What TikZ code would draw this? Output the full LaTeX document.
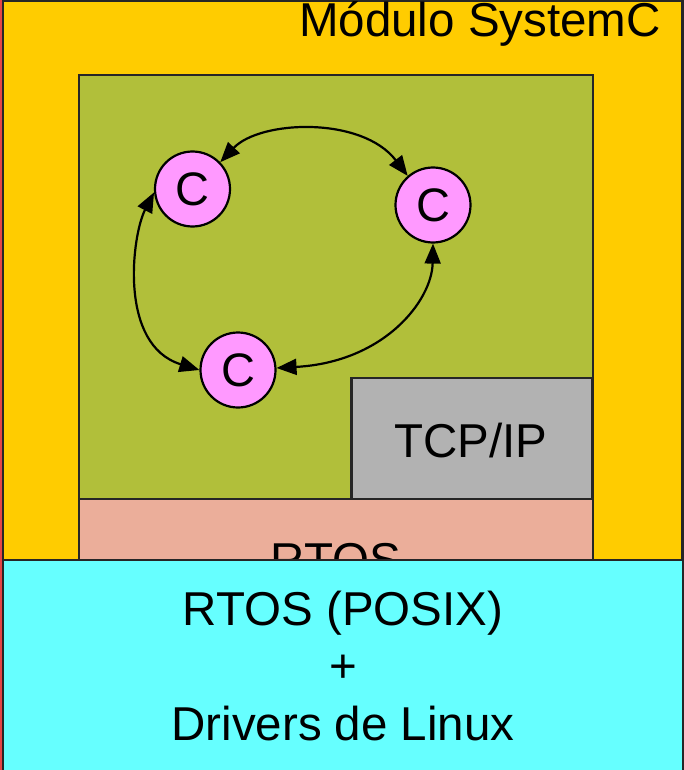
\documentclass[tikz,border=0pt]{standalone}
\usepackage{fontspec}
\setmainfont{Liberation Sans}
\usetikzlibrary{arrows.meta}
\definecolor{modyellow}{RGB}{255,204,0}
\definecolor{modgreen}{RGB}{177,191,58}
\definecolor{modgray}{RGB}{178,178,178}
\definecolor{modsalmon}{RGB}{235,174,154}
\definecolor{modcyan}{RGB}{102,255,255}
\definecolor{modpink}{RGB}{255,153,255}
\definecolor{modred}{RGB}{228,70,70}
\tikzset{
  box/.style={draw=black!85, line width=2.6pt, inner sep=0pt, rectangle},
  big/.style={font=\fontsize{47.5}{57}\selectfont, inner sep=0pt},
  comp/.style={circle, draw=black, line width=2.2pt, fill=modpink, minimum size=75pt, inner sep=0pt, font=\fontsize{47}{56}\selectfont},
  tipshape/.tip={Triangle[length=20pt,width=16pt]},
  link/.style={line width=2.2pt, tipshape-tipshape}
}
\begin{document}
\begin{tikzpicture}[x=1pt,y=-1pt]
\useasboundingbox (0,0) rectangle (684,770);
\fill[modred] (0,0) rectangle (3.5,770);
% outer SystemC module
\node[box, fill=modyellow, minimum width=679.5pt, minimum height=560pt] (module) at (342.75,280.5) {};
\node[big, anchor=base east] (modlabel) at (661,37) {Módulo SystemC};
% green area
\node[box, fill=modgreen, minimum width=514pt, minimum height=424pt] (app) at (336,287) {};
% TCP/IP
\node[box, fill=modgray, minimum width=241pt, minimum height=121pt] (tcp) at (472,438.5) {};
\node[big, anchor=base] (tcplabel) at (471,457) {TCP/IP};
% RTOS
\node[box, fill=modsalmon, minimum width=514pt, minimum height=120pt] (rtos) at (336,559) {};
\node[big, anchor=base] (rtoslabel) at (336,576) {RTOS};
% components
\node[comp] (c1) at (192.5,189) {C};
\node[comp] (c2) at (433,205) {C};
\node[comp] (c3) at (238,370) {C};
\draw[link] (c1.44) .. controls (260,120) and (362,116) .. (c2.131);
\draw[link] (c1.185) .. controls (132,235) and (118,345) .. (c3.180);
\draw[link] (c2.270) .. controls (432,300) and (385,362) .. (c3.3);
% bottom layer
\node[box, fill=modcyan, minimum width=680pt, minimum height=212pt] (linux) at (343,666) {};
\node[big, anchor=base] (l1) at (343,625) {RTOS (POSIX)};
\node[big, anchor=base] (l2) at (343,682) {+};
\node[big, anchor=base] (l3) at (343,740) {Drivers de Linux};
\end{tikzpicture}
\end{document}
